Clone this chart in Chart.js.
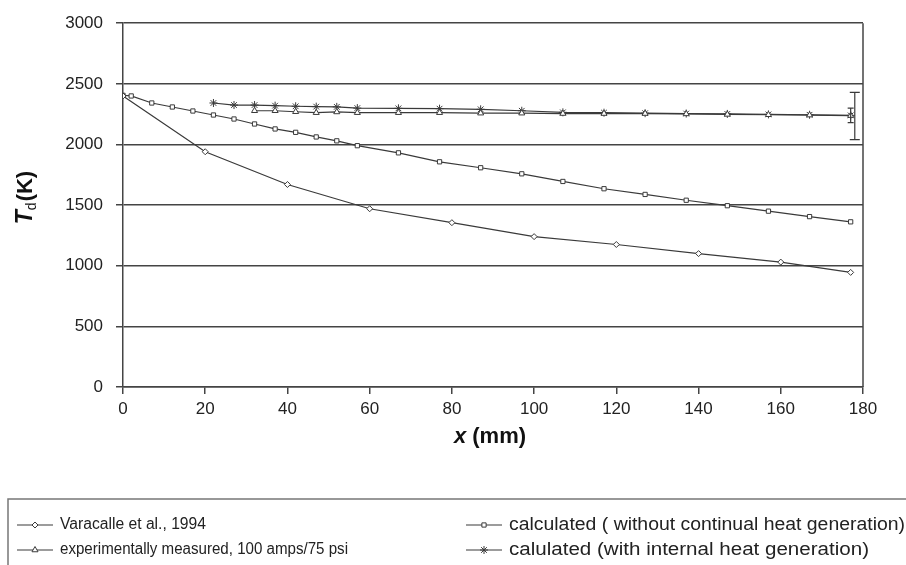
<!DOCTYPE html>
<html>
<head>
    <title>Td vs x</title>
    <script src="https://cdn.jsdelivr.net/npm/chart.js"></script>
    <style>
        body { margin: 0; background: #fff; }
        #wrap { width: 906px; height: 565px; position: relative; }
    </style>
</head>
<body>
<div id="wrap"><canvas id="myChart" width="906" height="565"></canvas></div>
<script>
    // values
    const varX = [0, 20, 40, 60, 80, 100, 120, 140, 160, 177];
    const varT = [2400, 1940, 1670, 1470, 1355, 1240, 1175, 1100, 1030, 945];

    const calcX = [0, 2, 7, 12, 17, 22, 27, 32, 37, 42, 47, 52, 57, 67, 77, 87, 97, 107, 117, 127, 137, 147, 157, 167, 177];
    const calcT = [2405, 2400, 2342, 2309, 2276, 2243, 2210, 2169, 2128, 2100, 2062, 2030, 1990, 1931, 1857, 1808, 1758, 1695, 1635, 1588, 1540, 1495, 1450, 1405, 1362];

    const expX = [32, 37, 42, 47, 52, 57, 67, 77, 87, 97, 107, 117, 127, 137, 147, 157, 167, 177];
    const expT = [2278, 2278, 2270, 2262, 2268, 2262, 2262, 2262, 2258, 2258, 2255, 2255, 2255, 2252, 2248, 2245, 2242, 2238];

    const heatX = [22, 27, 32, 37, 42, 47, 52, 57, 67, 77, 87, 97, 107, 117, 127, 137, 147, 157, 167, 177];
    const heatT = [2342, 2325, 2325, 2320, 2315, 2312, 2310, 2300, 2298, 2295, 2290, 2278, 2265, 2262, 2258, 2255, 2252, 2248, 2245, 2240];

    // error bars at the end of the run
    const errX = [178, 177];
    const errLow = [2040, 2180];
    const errHigh = [2430, 2300];

    const seriesNames = [
        'Varacalle et al., 1994',
        'calculated ( without continual heat generation)',
        'experimentally measured, 100 amps/75 psi',
        'calulated (with internal heat generation)'
    ];

    const pts = (xs, ys) => xs.map((x, i) => ({ x: x, y: ys[i] }));
    const ink = '#3a3a3a';
    const FONT = '"Liberation Sans", Arial, sans-serif';

    function ds(label, data, style, radius) {
        return {
            label: label,
            data: data,
            borderColor: ink,
            borderWidth: 1.2,
            pointStyle: style,
            pointRadius: radius,
            pointBorderWidth: 1,
            pointBorderColor: ink,
            pointBackgroundColor: '#fff',
            fill: false,
            tension: 0
        };
    }

    // legend layout (the original legend is not evenly sized)
    const legendItems = [
        { x: 17, y: 525, w: 146, size: 16 },
        { x: 466, y: 525, w: 396, size: 17.5 },
        { x: 17, y: 550, w: 288, size: 16 },
        { x: 466, y: 550, w: 360, size: 17.5 }
    ];

    const extras = {
        id: 'extras',
        afterDatasetsDraw(chart) {
            const c = chart.ctx, xs = chart.scales.x, ys = chart.scales.y;
            c.save();
            c.strokeStyle = ink;
            c.lineWidth = 1.2;
            errX.forEach((x, i) => {
                const px = xs.getPixelForValue(x);
                const lo = ys.getPixelForValue(errLow[i]);
                const hi = ys.getPixelForValue(errHigh[i]);
                const cap = i === 0 ? 5 : 3;
                c.beginPath();
                c.moveTo(px, lo); c.lineTo(px, hi);
                c.moveTo(px - cap, lo); c.lineTo(px + cap, lo);
                c.moveTo(px - cap, hi); c.lineTo(px + cap, hi);
                c.stroke();
            });
            c.restore();
        },
        afterDraw(chart) {
            const c = chart.ctx, a = chart.chartArea;
            c.save();
            // right border of plot
            c.strokeStyle = '#444';
            c.lineWidth = 1.5;
            c.beginPath();
            c.moveTo(a.right, a.top);
            c.lineTo(a.right, a.bottom);
            c.stroke();

            // x title
            c.fillStyle = '#111';
            c.textBaseline = 'middle';
            c.font = 'bold italic 22px ' + FONT;
            const w1 = c.measureText('x').width;
            c.font = 'bold 22px ' + FONT;
            const w2 = c.measureText(' (mm)').width;
            let sx = 490 - (w1 + w2) / 2;
            c.font = 'bold italic 22px ' + FONT;
            c.fillText('x', sx, 437);
            c.font = 'bold 22px ' + FONT;
            c.fillText(' (mm)', sx + w1, 437);

            // y title, rotated
            c.translate(26, 198);
            c.rotate(-Math.PI / 2);
            c.font = 'bold italic 23px ' + FONT;
            const tw = c.measureText('T').width;
            c.font = '14px ' + FONT;
            const dw = c.measureText('d').width;
            c.font = 'bold 22px ' + FONT;
            const kw = c.measureText('(K)').width;
            sx = -(tw + dw + kw) / 2;
            c.font = 'bold italic 23px ' + FONT;
            c.fillText('T', sx, 0);
            c.font = '14px ' + FONT;
            c.fillText('d', sx + tw, 6);
            c.font = 'bold 22px ' + FONT;
            c.fillText('(K)', sx + tw + dw + 1, 0);
            c.setTransform(1, 0, 0, 1, 0, 0);

            // legend box
            c.strokeStyle = '#777';
            c.lineWidth = 1.5;
            c.strokeRect(8, 499, 910, 80);
            legendItems.forEach((it, i) => {
                const d = chart.data.datasets[i];
                c.strokeStyle = ink;
                c.lineWidth = 1.2;
                c.beginPath();
                c.moveTo(it.x, it.y); c.lineTo(it.x + 36, it.y);
                c.stroke();
                c.fillStyle = '#fff';
                c.lineWidth = 1;
                Chart.helpers.drawPoint(c, {
                    pointStyle: d.pointStyle, radius: d.pointRadius, borderWidth: 1
                }, it.x + 18, it.y);
                c.fillStyle = '#222';
                c.font = it.size + 'px ' + FONT;
                const mw = c.measureText(seriesNames[i]).width;
                c.save();
                c.translate(it.x + 43, it.y);
                c.scale(it.w / mw, 1);
                c.fillText(seriesNames[i], 0, 0);
                c.restore();
            });
            c.restore();
        }
    };

    Chart.defaults.font.family = FONT;

    const ctx = document.getElementById('myChart').getContext('2d');
    window.myChart = new Chart(ctx, {
        type: 'line',
        data: {
            datasets: [
                ds(seriesNames[0], pts(varX, varT), 'rectRot', 3),
                ds(seriesNames[1], pts(calcX, calcT), 'rect', 3),
                ds(seriesNames[2], pts(expX, expT), 'triangle', 3.5),
                ds(seriesNames[3], pts(heatX, heatT), 'star', 4)
            ]
        },
        options: {
            responsive: false,
            animation: false,
            layout: { padding: { left: 0, top: 22, right: 43, bottom: 118 } },
            plugins: {
                legend: { display: false },
                tooltip: { enabled: false }
            },
            scales: {
                x: {
                    type: 'linear',
                    min: 0, max: 180,
                    ticks: { stepSize: 20, color: '#222', font: { size: 17 }, padding: 5, maxRotation: 0 },
                    grid: { drawOnChartArea: false, drawTicks: true, tickLength: 7, color: '#444', lineWidth: 1.5 },
                    border: { color: '#444', width: 1.5 },
                    afterFit(s) { s.height = 60; }
                },
                y: {
                    min: 0, max: 3000,
                    ticks: { stepSize: 500, color: '#222', font: { size: 17 }, padding: 13, callback: v => String(v) },
                    grid: { color: '#444', lineWidth: 1.5, tickLength: 7 },
                    border: { color: '#444', width: 1.5 },
                    afterFit(s) { s.width = 123; }
                }
            }
        },
        plugins: [extras]
    });
</script>
</body>
</html>
